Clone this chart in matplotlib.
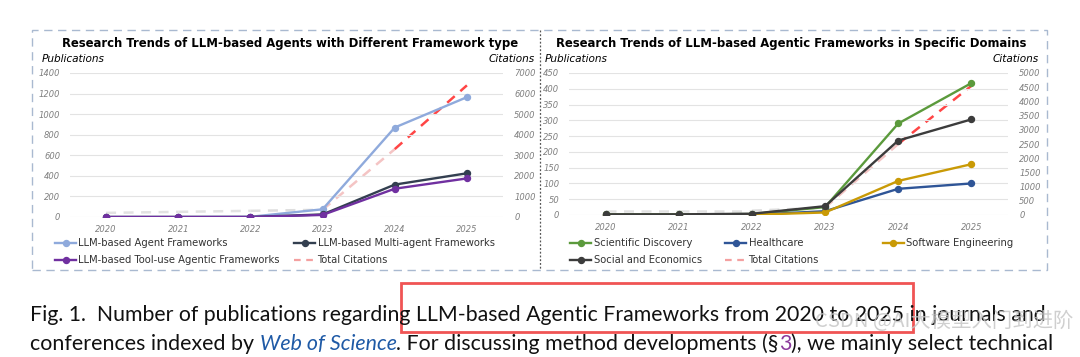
import matplotlib
matplotlib.use('Agg')
import matplotlib.pyplot as plt
from matplotlib.lines import Line2D
from matplotlib.patches import Rectangle

years = ['2020', '2021', '2022', '2023', '2024', '2025']

# left panel: publications per framework type (left axis), citations (right axis)
agent_frameworks = [0, 0, 2, 75, 870, 1165]
multi_agent = [0, 0, 0, 25, 315, 425]
tool_use = [0, 0, 0, 20, 275, 375]
citations_left = [200, 250, 300, 350, 3300, 6400]

# right panel: publications per domain, citations
scientific = [2, 2, 3, 25, 290, 418]
healthcare = [0, 0, 1, 12, 83, 100]
software = [0, 0, 1, 8, 108, 161]
social = [2, 2, 4, 28, 236, 303]
citations_right = [150, 150, 150, 260, 2500, 4550]

# colour of each citation segment: grey fading into red
cite_colors = ['#e2e2e2', '#e2e2e2', '#dedede', '#f4c4c4', '#ff4545']

W, H = 1080, 357
fig = plt.figure(figsize=(W / 100, H / 100), dpi=100)
renderer = fig.canvas.get_renderer()


def fx(x):
    return x / W


def fy(y):
    return 1 - y / H


def fit_text(t, width):
    w = t.get_window_extent(renderer).width
    t.set_fontsize(t.get_fontsize() * width / w)


def style_axes(ax, ax2, ymax, ystep, cmax, cstep):
    ax.set_xlim(-0.5, 5.5)
    ax.set_ylim(0, ymax)
    ax.set_yticks(range(0, ymax + 1, ystep))
    ax.set_xticks(range(len(years)))
    ax.set_xticklabels(years)
    ax2.set_ylim(0, cmax)
    ax2.set_yticks(range(0, cmax + 1, cstep))
    for a in (ax, ax2):
        for s in a.spines.values():
            s.set_visible(False)
        a.tick_params(length=0, labelsize=6, labelcolor='#7f7f7f')
        for lab in a.get_xticklabels() + a.get_yticklabels():
            lab.set_fontstyle('italic')
    ax.tick_params(axis='y', pad=7)
    ax.tick_params(axis='x', pad=6)
    ax2.tick_params(axis='y', pad=8)
    ax.grid(axis='y', color='#e3e3e3', linewidth=0.8)
    ax.set_axisbelow(True)
    ax.set_zorder(2)
    ax.patch.set_visible(False)
    ax2.set_zorder(1)


def citation_line(ax2, values):
    for i in range(len(values) - 1):
        ax2.plot([i, i + 1], values[i:i + 2], color=cite_colors[i],
                 linestyle=(0, (4, 3)), linewidth=1.8)


def add_key(x, y, label, **style):
    h = Line2D([], [], **style)
    fig.legend([h], [label], loc='center left', bbox_to_anchor=(fx(x), fy(y)),
               frameon=False, fontsize=7.2, handlelength=2.1, handletextpad=0.25,
               borderpad=0, borderaxespad=0, labelcolor='#333333')


mk = dict(marker='o', markersize=4.3, linewidth=1.7)
xs = list(range(len(years)))

# ---- left panel ----
ax1 = fig.add_axes([fx(70), fy(217), (503 - 70) / W, (217 - 73) / H])
ax1b = ax1.twinx()
citation_line(ax1b, citations_left)
ax1.plot(xs, agent_frameworks, color='#8faadc', **mk)
ax1.plot(xs, multi_agent, color='#333f50', **mk)
ax1.plot(xs, tool_use, color='#7030a0', **mk)
style_axes(ax1, ax1b, 1400, 200, 7000, 1000)

# ---- right panel ----
ax2 = fig.add_axes([fx(569), fy(215), (1008 - 569) / W, (215 - 73) / H])
ax2b = ax2.twinx()
citation_line(ax2b, citations_right)
ax2.plot(xs, scientific, color='#5b9a3c', **mk)
ax2.plot(xs, healthcare, color='#2f5597', **mk)
ax2.plot(xs, software, color='#c99a06', **mk)
ax2.plot(xs, social, color='#3c3c3c', **mk)
style_axes(ax2, ax2b, 450, 50, 5000, 500)

# titles and axis captions
t1 = fig.text(fx(290), fy(44), 'Research Trends of LLM-based Agents with Different Framework type',
              ha='center', va='center', fontsize=8.5, fontweight='bold')
t2 = fig.text(fx(791), fy(44), 'Research Trends of LLM-based Agentic Frameworks in Specific Domains',
              ha='center', va='center', fontsize=8.5, fontweight='bold')
fit_text(t1, 458)
fit_text(t2, 468)
for x, ha, s in [(42, 'left', 'Publications'), (535, 'right', 'Citations'),
                 (545, 'left', 'Publications'), (1039, 'right', 'Citations')]:
    fig.text(fx(x), fy(59), s, ha=ha, va='center', fontsize=7.6, fontstyle='italic')

# legends
cite_handle = dict(color='#f4a0a0', linestyle=(0, (3, 2.5)), linewidth=1.6)
add_key(55, 243, 'LLM-based Agent Frameworks', color='#8faadc', **mk)
add_key(294, 243, 'LLM-based Multi-agent Frameworks', color='#333f50', **mk)
add_key(55, 260, 'LLM-based Tool-use Agentic Frameworks', color='#7030a0', **mk)
add_key(294, 260, 'Total Citations', **cite_handle)
add_key(570, 243, 'Scientific Discovery', color='#5b9a3c', **mk)
add_key(725, 243, 'Healthcare', color='#2f5597', **mk)
add_key(883, 243, 'Software Engineering', color='#c99a06', **mk)
add_key(570, 260, 'Social and Economics', color='#3c3c3c', **mk)
add_key(725, 260, 'Total Citations', **cite_handle)

# dashed frame and divider
fig.patches.append(Rectangle((fx(32), fy(270)), (1047 - 32) / W, (270 - 30) / H,
                             transform=fig.transFigure, fill=False, edgecolor='#a9b9d0',
                             linewidth=1.0, linestyle=(0, (6, 4))))
fig.add_artist(Line2D([fx(540), fx(540)], [fy(30), fy(270)], transform=fig.transFigure,
                      color='#555555', linewidth=0.9, linestyle=(0, (1.5, 1.5))))

# caption below the charts
cap_font = ['Lato', 'DejaVu Sans']
line1 = ('Fig. 1.  Number of publications regarding LLM-based Agentic Frameworks '
         'from 2020 to 2025 in journals and')
c1 = fig.text(fx(30), fy(315), line1, ha='left', va='center', fontsize=14,
              family=cap_font, color='#111111')
fit_text(c1, 1019)

pieces = [('conferences indexed by ', 'normal', '#111111'),
          ('Web of Science', 'italic', '#1f5aa6'),
          ('. For discussing method developments (§', 'normal', '#111111'),
          ('3', 'normal', '#8b3a9c'),
          ('), we mainly select technical', 'normal', '#111111')]
parts = []
x = 30
for s, st, col in pieces:
    t = fig.text(fx(x), fy(344), s, ha='left', va='center', fontsize=c1.get_fontsize(),
                 family=cap_font, fontstyle=st, color=col)
    parts.append(t)
    x += t.get_window_extent(renderer).width
# squeeze/stretch line 2 to the same right edge
scale = (1050 - 30) / (x - 30)
x = 30
for t in parts:
    t.set_fontsize(t.get_fontsize() * scale)
    t.set_x(fx(x))
    x += t.get_window_extent(renderer).width

# red highlight box
fig.patches.append(Rectangle((fx(401), fy(332)), (913 - 401) / W, (332 - 283) / H,
                             transform=fig.transFigure, fill=False, edgecolor='#f05454',
                             linewidth=2.0))

# watermark
wm = fig.text(fx(815), fy(321), 'CSDN @AI大模型入门到进阶', ha='left', va='center', fontsize=10,
              family=['Noto Sans CJK SC', 'DejaVu Sans'], color='#c4c4c4', alpha=0.8)
fit_text(wm, 258)

fig.savefig('out.png', dpi=100)
